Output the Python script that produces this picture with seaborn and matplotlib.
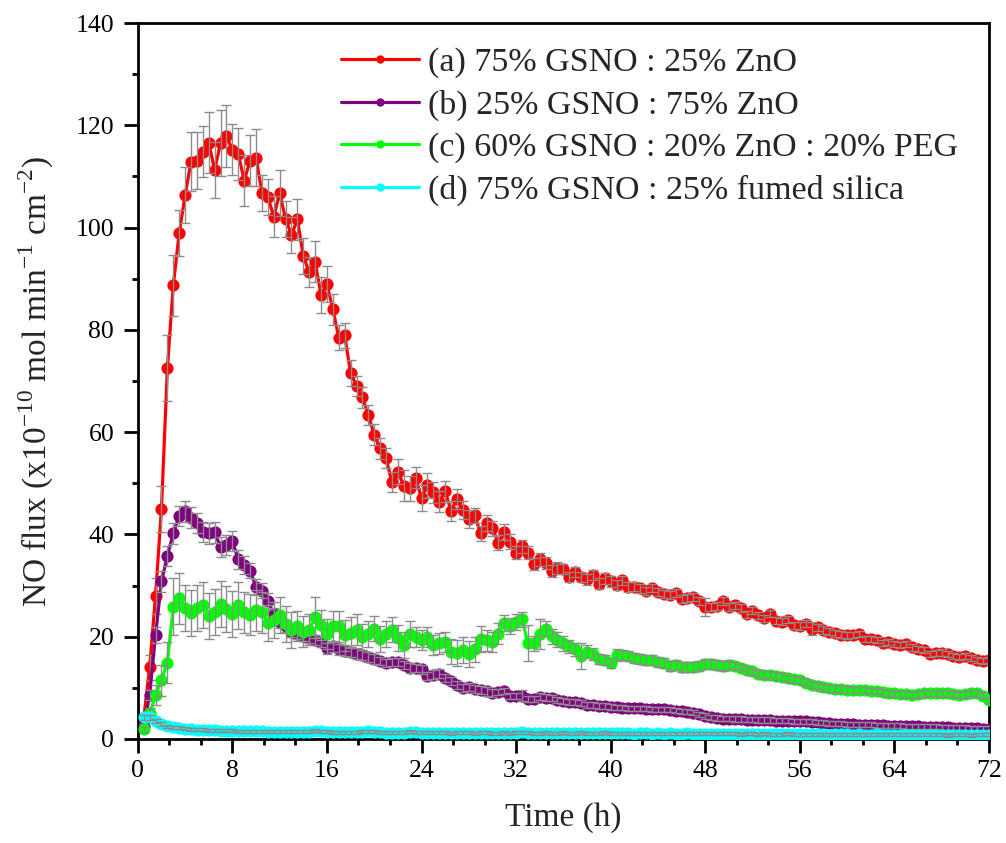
import numpy as np
import pandas as pd
import matplotlib
matplotlib.use("Agg")
import matplotlib.pyplot as plt
from matplotlib.ticker import MultipleLocator
from matplotlib.lines import Line2D
import seaborn as sns

# Sampling times (h), one reading every 30 min
time_h = np.arange(0.5, 72.0 + 0.01, 0.5)

labels = [
    "(a) 75% GSNO : 25% ZnO",
    "(b) 25% GSNO : 75% ZnO",
    "(c) 60% GSNO : 20% ZnO : 20% PEG",
    "(d) 75% GSNO : 25% fumed silica",
]
colors = ["#ff0000", "#800080", "#00ff00", "#00ffff"]

# NO flux (x10^-10 mol min^-1 cm^-2)
flux_a = [
    4.0, 14.0, 28.0, 45.0, 72.5, 88.7, 98.9, 106.3, 112.9, 113.1, 114.8, 116.6,
    111.3, 116.5, 117.9, 115.2, 114.4, 109.2, 113.1, 113.7, 106.8, 106.0, 102.1, 106.8,
    101.6, 98.6, 101.6, 94.4, 91.3, 93.3, 86.8, 89.0, 84.0, 78.5, 78.9, 71.6,
    69.0, 66.8, 63.3, 59.5, 56.8, 54.9, 50.2, 52.3, 49.5, 49.0, 51.1, 47.1,
    49.6, 48.2, 46.4, 48.4, 44.6, 46.9, 44.8, 43.0, 43.7, 40.2, 42.2, 41.2,
    38.4, 40.5, 38.6, 36.4, 37.7, 36.4, 34.2, 35.1, 34.4, 32.9, 33.4, 33.3,
    31.7, 32.7, 31.7, 31.2, 32.1, 30.4, 31.4, 30.8, 30.1, 31.0, 29.7, 29.8,
    29.5, 29.0, 29.5, 28.8, 28.4, 28.2, 28.6, 27.3, 27.6, 27.7, 27.0, 25.8,
    25.8, 26.0, 27.0, 25.8, 26.1, 25.6, 24.4, 25.1, 24.2, 23.6, 24.5, 23.1,
    22.9, 23.3, 22.2, 22.1, 22.5, 21.6, 21.8, 21.3, 21.0, 20.7, 20.4, 20.3,
    20.4, 20.5, 19.5, 19.6, 19.4, 18.7, 19.0, 18.5, 18.3, 18.6, 17.9, 17.6,
    17.4, 16.6, 16.8, 16.9, 16.7, 16.3, 16.0, 16.3, 15.8, 15.5, 15.3, 15.5,
]
flux_b = [
    2.5, 8.6, 20.3, 30.8, 35.8, 40.2, 43.6, 44.5, 43.3, 42.2, 40.5, 40.2,
    40.4, 37.5, 37.9, 38.7, 35.1, 34.0, 32.9, 29.7, 29.0, 27.0, 24.4, 22.9,
    22.0, 21.0, 20.5, 20.1, 19.8, 19.3, 19.0, 17.7, 18.1, 17.5, 17.3, 17.0,
    16.7, 16.4, 16.1, 15.6, 15.2, 14.8, 15.1, 15.1, 14.5, 13.9, 13.8, 13.6,
    12.3, 12.6, 12.8, 11.9, 11.3, 10.5, 9.9, 10.2, 9.8, 9.5, 9.3, 9.0,
    9.2, 9.3, 8.4, 8.4, 8.5, 7.9, 7.8, 8.3, 8.1, 8.0, 7.6, 7.5,
    7.3, 7.2, 7.1, 6.7, 6.6, 6.5, 6.4, 6.3, 6.2, 6.1, 6.0, 6.0,
    6.0, 5.9, 5.8, 5.8, 5.8, 5.7, 5.5, 5.4, 5.3, 5.1, 4.8, 4.5,
    4.2, 4.1, 4.0, 4.0, 3.9, 3.9, 3.8, 3.8, 3.7, 3.7, 3.7, 3.6,
    3.6, 3.6, 3.5, 3.5, 3.5, 3.4, 3.3, 3.2, 3.1, 3.0, 3.0, 2.9,
    2.9, 2.8, 2.8, 2.8, 2.7, 2.7, 2.6, 2.6, 2.6, 2.5, 2.5, 2.5,
    2.4, 2.4, 2.4, 2.3, 2.3, 2.2, 2.2, 2.2, 2.1, 2.1, 2.0, 2.0,
]
flux_c = [
    1.9, 5.0, 8.6, 11.5, 14.9, 25.9, 27.5, 25.7, 24.7, 25.7, 26.2, 24.1,
    24.9, 26.4, 25.4, 24.5, 26.1, 24.8, 24.3, 25.2, 24.8, 22.6, 23.3, 24.3,
    22.5, 21.3, 22.1, 21.0, 21.4, 23.8, 22.3, 20.5, 22.0, 22.0, 20.3, 20.8,
    21.4, 19.9, 20.5, 21.6, 19.5, 20.5, 21.4, 19.7, 18.4, 20.5, 19.9, 19.4,
    19.9, 18.4, 18.7, 19.0, 17.1, 16.8, 17.4, 16.6, 17.5, 19.5, 19.3, 19.0,
    20.6, 22.7, 22.1, 22.9, 23.4, 18.7, 18.7, 20.5, 21.6, 20.1, 19.4, 18.7,
    18.1, 17.5, 16.2, 17.1, 16.6, 15.6, 15.4, 14.8, 16.4, 16.4, 16.2, 15.8,
    15.6, 15.5, 15.4, 15.0, 14.8, 14.3, 14.5, 14.1, 14.0, 14.1, 14.3, 14.6,
    14.7, 14.4, 14.2, 14.5, 14.3, 13.9, 13.5, 13.2, 12.8, 12.5, 12.6, 12.3,
    12.2, 11.9, 11.7, 11.5, 11.0, 10.6, 10.4, 10.1, 9.9, 9.8, 9.7, 9.6,
    9.6, 9.5, 9.5, 9.4, 9.3, 9.1, 9.0, 8.9, 8.8, 8.7, 8.6, 8.7,
    8.9, 9.0, 9.0, 8.9, 8.9, 8.8, 8.6, 8.7, 9.0, 8.9, 8.5, 7.6,
]
flux_d = [
    4.2, 4.2, 3.6, 2.9, 2.5, 2.3, 2.2, 2.0, 1.9, 1.8, 1.8, 1.7,
    1.7, 1.6, 1.6, 1.6, 1.5, 1.5, 1.5, 1.5, 1.5, 1.4, 1.4, 1.4,
    1.4, 1.4, 1.4, 1.4, 1.4, 1.6, 1.5, 1.4, 1.3, 1.3, 1.3, 1.3,
    1.3, 1.4, 1.5, 1.4, 1.3, 1.2, 1.2, 1.2, 1.2, 1.4, 1.3, 1.2,
    1.2, 1.2, 1.2, 1.2, 1.1, 1.2, 1.2, 1.2, 1.1, 1.2, 1.2, 1.1,
    1.1, 1.2, 1.1, 1.2, 1.3, 1.2, 1.1, 1.1, 1.2, 1.1, 1.1, 1.2,
    1.1, 1.1, 1.2, 1.1, 1.1, 1.1, 1.2, 1.1, 1.1, 1.1, 1.1, 1.0,
    1.1, 1.1, 1.0, 1.1, 1.0, 1.1, 1.0, 1.0, 1.1, 1.0, 1.0, 1.0,
    1.0, 1.0, 1.0, 1.0, 1.0, 0.9, 1.0, 1.0, 0.9, 1.0, 0.9, 0.9,
    0.9, 1.0, 0.9, 0.9, 0.9, 0.9, 0.9, 0.9, 0.8, 0.9, 0.9, 0.9,
    0.8, 0.9, 0.8, 0.8, 0.9, 0.8, 0.8, 0.8, 0.8, 0.8, 0.8, 0.8,
    0.8, 0.8, 0.8, 0.8, 0.7, 0.8, 0.8, 0.8, 0.7, 0.8, 0.8, 0.8,
]

# Standard deviations
err_a = [
    1.0, 2.5, 3.5, 4.5, 6.5, 6.0, 4.5, 5.5, 5.8, 5.5, 5.0, 6.0,
    5.5, 6.5, 6.0, 5.0, 5.0, 5.0, 5.0, 5.5, 3.5, 3.5, 4.0, 4.5,
    3.5, 3.5, 4.0, 3.5, 3.0, 4.0, 3.5, 3.5, 3.0, 2.5, 2.5, 2.5,
    2.0, 2.0, 2.0, 2.0, 2.0, 2.0, 2.0, 2.5, 3.0, 2.5, 2.0, 2.5,
    2.5, 2.0, 2.0, 2.0, 2.0, 2.0, 1.8, 1.8, 1.5, 1.5, 1.5, 1.5,
    1.5, 1.5, 1.5, 1.3, 1.3, 1.3, 1.2, 1.2, 1.2, 1.2, 1.2, 1.0,
    1.0, 1.0, 1.0, 1.0, 1.0, 1.0, 1.0, 1.0, 1.0, 0.9, 0.9, 0.9,
    0.9, 0.8, 0.8, 0.8, 0.8, 0.8, 0.8, 0.8, 0.8, 0.8, 0.8, 1.7,
    0.8, 0.8, 0.8, 0.8, 0.7, 0.7, 0.7, 0.7, 0.7, 0.7, 0.7, 0.7,
    0.7, 0.7, 0.7, 0.7, 0.7, 1.2, 0.7, 0.7, 0.7, 0.7, 0.7, 0.7,
    0.6, 0.6, 0.6, 0.6, 0.6, 0.6, 0.6, 0.6, 0.6, 0.6, 0.6, 0.6,
    0.6, 0.6, 0.6, 0.6, 0.6, 0.6, 0.6, 0.6, 0.6, 0.6, 0.6, 0.6,
]
err_b = [
    0.5, 1.0, 1.5, 2.0, 2.0, 2.0, 2.0, 2.0, 2.0, 2.0, 2.0, 2.0,
    2.0, 2.0, 2.0, 2.0, 1.8, 1.8, 1.5, 1.5, 1.5, 1.5, 1.2, 1.2,
    1.0, 1.0, 1.0, 1.0, 1.0, 1.0, 1.0, 1.0, 1.0, 1.0, 1.0, 1.0,
    1.0, 1.0, 1.0, 1.0, 0.8, 0.8, 0.8, 0.8, 0.8, 1.0, 0.8, 0.8,
    0.8, 0.8, 0.8, 0.8, 0.8, 0.8, 0.8, 0.8, 0.8, 0.8, 0.8, 0.8,
    0.6, 0.6, 0.6, 0.6, 1.0, 0.6, 0.6, 0.6, 0.6, 0.6, 0.6, 0.6,
    0.6, 0.6, 0.6, 0.6, 0.6, 0.6, 0.6, 0.6, 0.5, 0.5, 0.5, 0.5,
    0.5, 0.5, 0.5, 0.5, 0.5, 0.5, 0.5, 0.5, 0.5, 0.5, 0.5, 0.5,
    0.5, 0.5, 0.5, 0.5, 0.5, 0.5, 0.5, 0.5, 0.5, 0.5, 0.5, 0.5,
    0.5, 0.5, 0.5, 0.5, 0.5, 0.5, 0.5, 0.5, 0.5, 0.5, 0.5, 0.5,
    0.5, 0.5, 0.5, 0.5, 0.5, 0.5, 0.5, 0.5, 0.5, 0.5, 0.5, 0.5,
    0.5, 0.5, 0.5, 0.5, 0.5, 0.5, 0.5, 0.5, 0.5, 0.5, 0.5, 0.5,
]
err_c = [
    0.5, 1.0, 2.0, 3.0, 4.0, 5.5, 5.0, 4.5, 4.5, 4.5, 4.5, 4.5,
    4.5, 4.5, 4.5, 4.5, 4.5, 4.0, 4.0, 4.0, 4.0, 3.5, 3.5, 3.5,
    3.5, 3.5, 3.0, 3.0, 3.0, 4.0, 3.0, 3.0, 3.0, 3.0, 3.0, 3.0,
    3.0, 2.5, 2.5, 2.5, 2.5, 2.5, 2.5, 2.5, 2.5, 2.5, 2.0, 2.0,
    2.0, 2.0, 2.0, 2.0, 2.5, 2.5, 2.5, 2.5, 2.5, 2.5, 2.0, 2.0,
    2.0, 1.5, 1.5, 1.5, 1.5, 3.5, 1.5, 3.0, 1.5, 1.5, 1.5, 1.5,
    1.2, 1.2, 2.5, 1.2, 1.2, 1.0, 1.0, 1.0, 1.2, 1.0, 1.0, 1.0,
    1.0, 1.0, 1.0, 1.0, 1.0, 1.0, 1.0, 1.0, 1.0, 1.0, 1.0, 1.0,
    1.0, 1.0, 1.0, 1.0, 0.7, 0.7, 0.7, 0.7, 0.7, 0.7, 0.7, 0.7,
    0.7, 0.7, 0.7, 0.7, 0.7, 0.7, 0.7, 0.7, 0.7, 0.7, 0.7, 0.7,
    0.6, 0.6, 0.6, 0.6, 0.6, 0.6, 0.6, 0.6, 0.6, 0.6, 0.6, 0.6,
    0.6, 0.6, 0.6, 0.6, 0.6, 0.6, 0.6, 0.6, 0.6, 0.6, 0.6, 0.6,
]
err_d = [
    0.5, 0.5, 0.4, 0.4, 0.3, 0.3, 0.3, 0.3, 0.3, 0.3, 0.3, 0.3,
    0.3, 0.3, 0.3, 0.3, 0.3, 0.3, 0.3, 0.3, 0.3, 0.3, 0.3, 0.3,
    0.3, 0.3, 0.3, 0.3, 0.3, 0.3, 0.3, 0.3, 0.3, 0.3, 0.3, 0.3,
    0.3, 0.3, 0.3, 0.3, 0.3, 0.3, 0.3, 0.3, 0.3, 0.3, 0.3, 0.3,
    0.3, 0.3, 0.3, 0.3, 0.3, 0.3, 0.3, 0.3, 0.3, 0.3, 0.3, 0.3,
    0.3, 0.3, 0.3, 0.3, 0.3, 0.3, 0.3, 0.3, 0.3, 0.3, 0.3, 0.3,
    0.3, 0.3, 0.3, 0.3, 0.3, 0.3, 0.3, 0.3, 0.3, 0.3, 0.3, 0.3,
    0.3, 0.3, 0.3, 0.3, 0.3, 0.3, 0.3, 0.3, 0.3, 0.3, 0.3, 0.3,
    0.3, 0.3, 0.3, 0.3, 0.3, 0.3, 0.3, 0.3, 0.3, 0.3, 0.3, 0.3,
    0.3, 0.3, 0.3, 0.3, 0.3, 0.3, 0.3, 0.3, 0.3, 0.3, 0.3, 0.3,
    0.3, 0.3, 0.3, 0.3, 0.3, 0.3, 0.3, 0.3, 0.3, 0.3, 0.3, 0.3,
    0.3, 0.3, 0.3, 0.3, 0.3, 0.3, 0.3, 0.3, 0.3, 0.3, 0.3, 0.3,
]

fluxes = [flux_a, flux_b, flux_c, flux_d]
errors = [err_a, err_b, err_c, err_d]

frames = []
for lab, f, e in zip(labels, fluxes, errors):
    frames.append(pd.DataFrame({"time": time_h, "flux": f, "err": e, "sample": lab}))
df = pd.concat(frames, ignore_index=True)

sns.set_theme(style="ticks")
serif = ["Liberation Serif", "DejaVu Serif"]
plt.rcParams["font.family"] = serif
plt.rcParams["mathtext.fontset"] = "custom"
plt.rcParams["mathtext.rm"] = "Liberation Serif"

fig = plt.figure(figsize=(10.06, 8.43), dpi=100)
ax = fig.add_axes([0.137, 0.1234, 0.846, 0.8493])

for i, (lab, col) in enumerate(zip(labels, colors)):
    sub = df[df["sample"] == lab]
    z = 2 + i
    sns.lineplot(data=sub, x="time", y="flux", color=col, marker="o",
                 markersize=8.8, markeredgewidth=0, linewidth=2.3,
                 ax=ax, legend=False, sort=False, errorbar=None, zorder=z)
    _, caps, bars = ax.errorbar(sub["time"], sub["flux"], yerr=sub["err"],
                                fmt="none", ecolor="#8c8c8c", elinewidth=1.0,
                                capsize=3.5, capthick=1.0, zorder=z + 0.5)
    for c in caps:
        c.set_color("#303030")

ax.set_xlim(0, 72)
ax.set_ylim(0, 140)
ax.xaxis.set_major_locator(MultipleLocator(8))
ax.xaxis.set_minor_locator(MultipleLocator(8 / 3))
ax.yaxis.set_major_locator(MultipleLocator(20))
ax.yaxis.set_minor_locator(MultipleLocator(10))
ax.tick_params(axis="both", which="major", direction="out", length=10, width=2,
               labelsize=18.5, color="black", labelcolor="black")
ax.tick_params(axis="x", which="major", pad=5)
ax.tick_params(axis="y", which="major", pad=7)
ax.tick_params(axis="both", which="minor", direction="out", length=4.5, width=2,
               color="black")
ax.tick_params(top=False, right=False, which="both")
for s in ax.spines.values():
    s.set_linewidth(2)
    s.set_color("black")

ax.set_xlabel("Time (h)", fontsize=24, labelpad=15)
ax.set_ylabel(r"NO flux (x10$^{-10}$ mol min$^{-1}$ cm$^{-2}$)", fontsize=24, labelpad=14)

handles = [Line2D([0], [0], color=c, linewidth=2.3, marker="o", markersize=6,
                  markeredgewidth=0) for c in colors]
ax.legend(handles, labels, loc="upper left", bbox_to_anchor=(0.2385, 0.966),
          frameon=False, fontsize=24.5, handlelength=2.3, handletextpad=0.25,
          labelspacing=0.33, borderpad=0, borderaxespad=0)

fig.savefig("out.png", dpi=100)
